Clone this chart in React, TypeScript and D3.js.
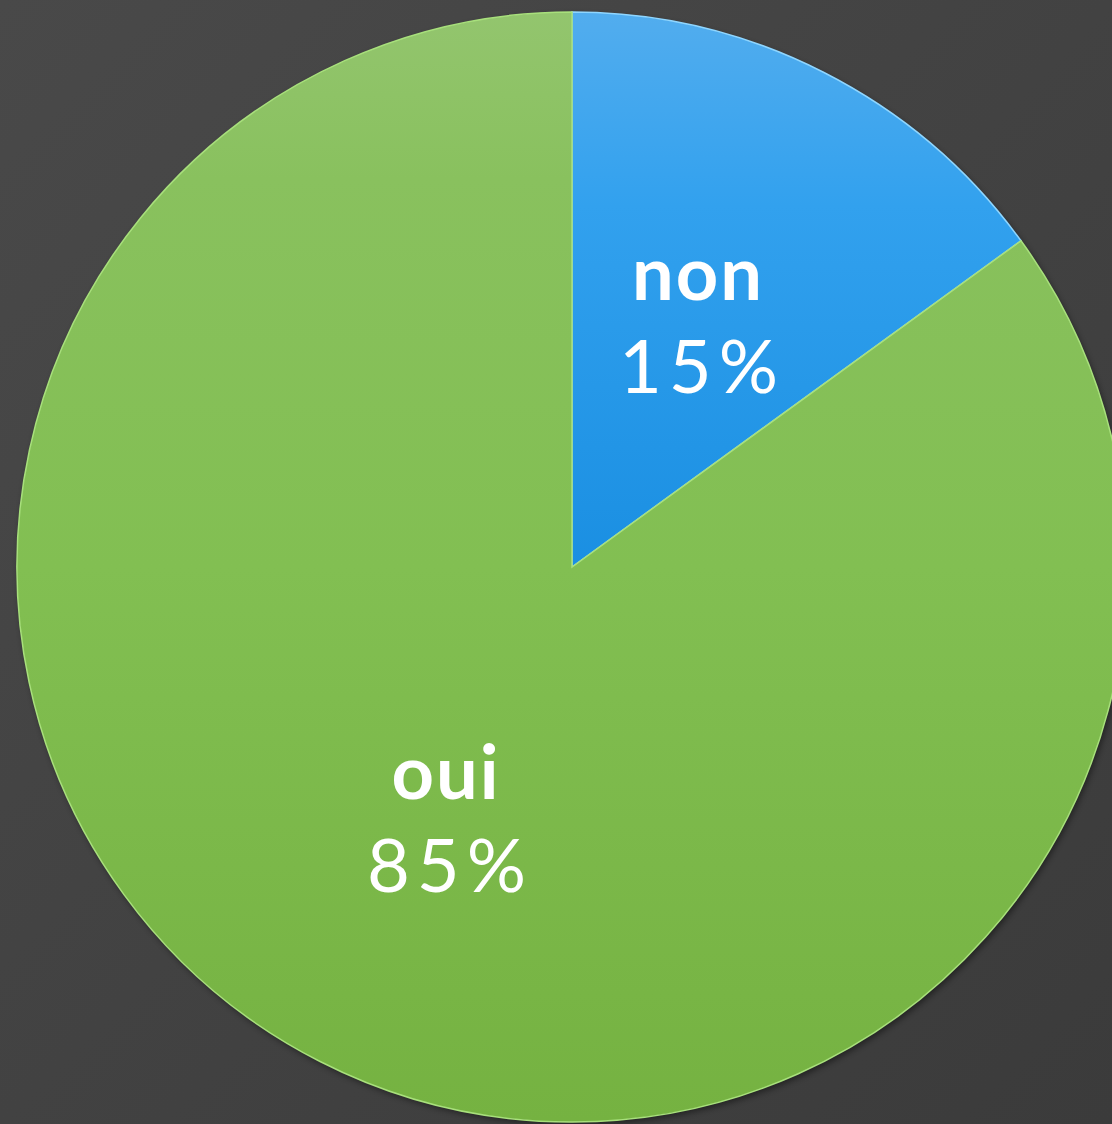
import React from "react";
import * as d3 from "d3";

const categories = ["non", "oui"];
const values = [15, 85];
const percentLabels = ["15%", "85%"];

const W = 1112;
const H = 1124;
const CX = 572;
const CY = 567;
const R = 555;

export default function App() {
  const pie = d3
    .pie<number>()
    .sort(null)
    .value((d) => d);
  const arcs = pie(values);
  const arcGen = d3.arc<d3.PieArcDatum<number>>().innerRadius(0).outerRadius(R);
  const labelArc = d3
    .arc<d3.PieArcDatum<number>>()
    .innerRadius(R * 0.5)
    .outerRadius(R * 0.5);

  const fills = ["url(#blueGrad)", "url(#greenGrad)"];
  const strokes = ["#8fd6ff", "#a8e07c"];
  const font = "'Lato', 'Open Sans', 'DejaVu Sans', sans-serif";

  return (
    <svg
      width={W}
      height={H}
      style={{ position: "absolute", left: 0, top: 0, display: "block" }}
    >
      <defs>
        <linearGradient id="bgGrad" x1="0" y1="0" x2="1" y2="1">
          <stop offset="0" stopColor="#494949" />
          <stop offset="1" stopColor="#3b3b3b" />
        </linearGradient>
        <linearGradient
          id="greenGrad"
          gradientUnits="userSpaceOnUse"
          x1="0"
          y1={-R}
          x2="0"
          y2={R}
        >
          <stop offset="0" stopColor="#93c56e" />
          <stop offset="0.15" stopColor="#89c15e" />
          <stop offset="0.5" stopColor="#82bf52" />
          <stop offset="1" stopColor="#75b241" />
        </linearGradient>
        <linearGradient
          id="blueGrad"
          gradientUnits="userSpaceOnUse"
          x1="0"
          y1={-R}
          x2="0"
          y2={0}
        >
          <stop offset="0" stopColor="#52adee" />
          <stop offset="0.35" stopColor="#32a1ee" />
          <stop offset="1" stopColor="#1a8fe2" />
        </linearGradient>
        <filter id="blur" x="-10%" y="-10%" width="120%" height="120%">
          <feGaussianBlur stdDeviation="3" />
        </filter>
      </defs>
      <rect x={0} y={0} width={W} height={H} fill="url(#bgGrad)" />
      <g transform={`translate(${CX},${CY})`}>
        <circle cx={2} cy={3} r={R} fill="#000" opacity={0.45} filter="url(#blur)" />
        {arcs.map((a, i) => (
          <path
            key={categories[i]}
            d={arcGen(a) || ""}
            fill={fills[i]}
            stroke={strokes[i]}
            strokeWidth={1.5}
          />
        ))}
        {arcs.map((a, i) => {
          const [lx, ly] = labelArc.centroid(a);
          return (
            <text
              key={"t" + categories[i]}
              x={lx}
              y={ly}
              fill="#ffffff"
              fontFamily={font}
              fontSize={74}
              textAnchor="middle"
            >
              <tspan x={lx} dy={i === 0 ? -20 : -15} fontWeight="bold" letterSpacing={2}>
                {categories[i]}
              </tspan>
              <tspan x={lx + 4} dy={93} letterSpacing={7}>
                {percentLabels[i]}
              </tspan>
            </text>
          );
        })}
      </g>
    </svg>
  );
}
